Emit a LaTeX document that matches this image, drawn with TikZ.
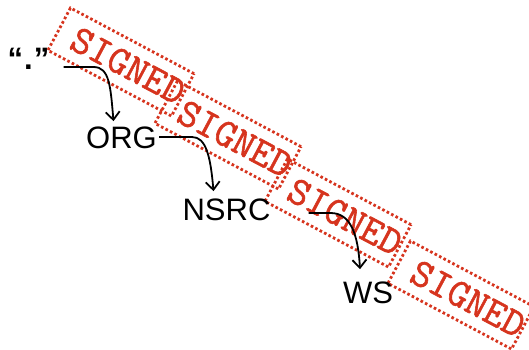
\documentclass[tikz,border=0pt]{standalone}
\usepackage{fontspec}
\setmainfont{Liberation Sans}
\newfontfamily\stampfont[FakeBold=1.4]{Latin Modern Mono}
\usetikzlibrary{arrows.meta,calc}
\definecolor{stampred}{RGB}{214,52,30}
\tikzset{
  stampbox/.style={draw=stampred, line width=2.8pt, dash pattern=on 2.6pt off 2.4pt,
    minimum width=140pt, minimum height=48pt, inner sep=0pt, text=stampred,
    font=\stampfont\fontsize{40}{40}\selectfont, rotate=-28},
  lbl/.style={inner sep=0pt, anchor=base, font=\fontsize{31}{31}\selectfont},
  arr/.style={line width=1.8pt, -{Straight Barb[length=8pt,width=14pt]}}
}
\begin{document}
\begin{tikzpicture}[x=1pt,y=-1pt]
\useasboundingbox (0,0) rectangle (529,349);
\node[stampbox] (s1) at (121,62) {\hspace*{16pt}SIGNED};
\node[stampbox] (s2) at (228,135) {\hspace*{16pt}SIGNED};
\node[stampbox] (s3) at (338,213) {\hspace*{16pt}SIGNED};
\node[stampbox] (s4) at (461,295) {\hspace*{16pt}SIGNED};
\node[lbl] (root) at (28.5,69) {\bfseries “\hspace{1pt}.\hspace{1pt}”};
\node[lbl] (org) at (121.5,148) {ORG};
\node[lbl] (nsrc) at (226.5,220) {NSRC};
\node[lbl] (ws) at (368,303) {WS};
\draw[arr] ([xshift=14pt,yshift=2pt]root.base east) -- ++(30,0)
  .. controls +(16,0) and +(-3,-35) .. ([xshift=-8pt,yshift=5pt]org.north);
\draw[arr] ([xshift=2pt,yshift=11pt]org.base east) -- ++(33,0)
  .. controls +(14,0) and +(-3,-35) .. ([xshift=-13pt,yshift=7pt]nsrc.north);
\draw[arr] ([xshift=38pt,yshift=7pt]nsrc.base east) -- ++(22,0)
  .. controls +(20,0) and +(-2,-35) .. ([xshift=-8pt,yshift=12pt]ws.north);
\end{tikzpicture}
\end{document}
